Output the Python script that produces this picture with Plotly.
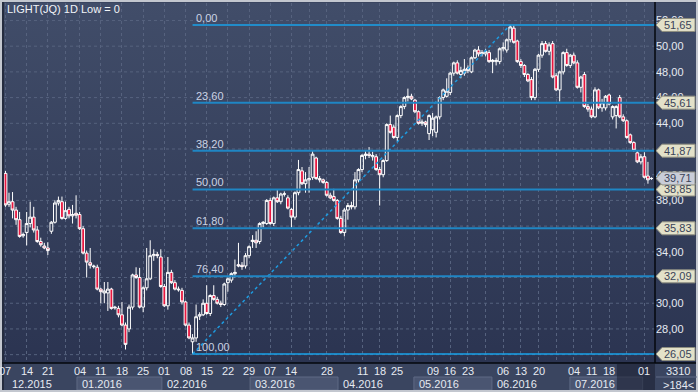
import base64
import numpy as np
import plotly.graph_objects as go

# ---------------- data ----------------
opens = [40.1, 37.7, 37.9, 37.25, 36.5, 35.25, 35.5, 36.2, 36.7, 35.7, 34.8, 34.45, 34.3, 35.6, 36.3, 37.8, 37.9, 36.6, 37.3, 36.8,
         37.0, 36.9, 35.8, 33.9, 33.15, 32.9, 32.8, 31.1, 30.8, 30.8, 31.1, 29.7, 29.6, 29.1, 28.3, 28.0, 29.7, 32.2, 32.0, 29.7,
         31.2, 31.9, 33.7, 33.8, 33.6, 31.3, 29.8, 32.4, 31.6, 31.1, 31.0, 30.1, 28.3, 27.0, 27.3, 29.0, 29.1, 30.0, 29.2, 30.6,
         30.3, 30.0, 29.9, 31.6, 31.8, 32.3, 33.0, 32.95, 32.9, 33.7, 34.8, 34.9, 34.8, 36.2, 36.2, 38.0, 36.2, 38.2, 37.9, 38.5,
         38.2, 37.3, 36.7, 38.6, 40.3, 39.3, 39.6, 39.8, 41.3, 39.7, 39.6, 39.4, 38.4, 38.3, 38.0, 36.6, 35.5, 37.25, 37.6, 37.5,
         39.6, 40.4, 41.5, 41.6, 41.4, 41.4, 40.4, 40.0, 41.1, 43.9, 43.7, 42.9, 44.6, 45.3, 46.0, 46.1, 45.8, 44.9, 44.0, 44.1,
         43.2, 43.5, 43.3, 44.5, 46.0, 46.1, 46.4, 47.9, 48.7, 47.8, 47.9, 48.3, 48.0, 49.1, 49.7, 49.4, 49.4, 49.5, 48.8, 48.8,
         48.8, 49.8, 49.7, 50.5, 51.4, 50.4, 48.8, 48.5, 47.8, 47.4, 46.0, 48.2, 49.3, 50.2, 49.6, 50.2, 47.7, 46.6, 48.0, 49.5,
         48.5, 49.3, 48.7, 46.8, 47.8, 45.3, 45.1, 44.5, 46.6, 45.2, 45.2, 46.2, 44.5, 44.6, 46.0, 44.5, 44.2, 43.1, 42.5, 41.7,
         41.0, 41.4, 39.9, 39.7]
highs = [40.3, 38.6, 38.65, 37.5, 37.1, 35.5, 37.1, 37.9, 37.5, 36.0, 35.1, 34.7, 34.75, 36.4, 38.0, 38.3, 38.3, 37.9, 37.5, 37.65,
         38.4, 37.1, 36.0, 34.1, 34.3, 33.0, 33.0, 31.2, 31.65, 31.65, 31.2, 29.8, 29.8, 30.1, 28.5, 29.9, 32.3, 32.8, 32.75, 31.3,
         34.3, 34.9, 34.2, 34.0, 34.2, 31.5, 33.6, 32.6, 31.8, 31.3, 31.2, 30.2, 28.5, 27.6, 29.9, 29.3, 30.3, 31.4, 30.7, 31.4,
         30.5, 30.2, 31.6, 32.0, 32.4, 33.4, 34.7, 33.2, 33.9, 34.5, 35.3, 35.6, 36.3, 36.4, 38.1, 38.2, 38.3, 38.8, 38.6, 38.7,
         38.4, 37.4, 38.7, 41.15, 40.6, 40.2, 40.6, 41.9, 41.4, 39.9, 39.7, 39.5, 38.6, 38.9, 38.1, 36.8, 37.4, 37.8, 37.9, 40.2,
         40.5, 41.6, 41.9, 42.15, 41.8, 41.6, 40.6, 41.2, 44.0, 44.6, 43.9, 44.7, 45.4, 46.1, 46.7, 46.3, 45.9, 45.0, 44.3, 44.2,
         44.7, 44.8, 44.6, 46.1, 46.7, 47.5, 48.0, 48.8, 48.9, 48.4, 49.0, 48.5, 49.2, 49.8, 50.0, 49.7, 49.8, 49.7, 49.0, 49.1,
         49.9, 50.3, 50.6, 51.65, 51.6, 50.5, 49.0, 48.6, 47.9, 47.6, 48.3, 49.4, 50.4, 50.4, 50.3, 50.4, 47.9, 48.1, 49.6, 49.8,
         49.4, 49.5, 48.9, 47.7, 48.0, 45.5, 45.3, 46.8, 46.7, 45.9, 46.2, 46.3, 45.4, 45.4, 46.2, 44.7, 44.3, 43.2, 42.6, 41.9,
         41.6, 41.75, 41.0, 39.8]
lows = [37.5, 37.5, 36.6, 36.1, 35.1, 35.1, 34.5, 35.9, 35.5, 34.7, 34.4, 34.2, 33.75, 35.4, 36.2, 37.6, 36.5, 36.5, 36.6, 36.2,
        36.6, 35.7, 33.8, 32.0, 32.7, 32.7, 31.0, 30.0, 30.0, 29.4, 29.5, 29.5, 28.9, 28.2, 26.4, 27.75, 29.5, 31.9, 29.6, 29.3,
        31.0, 31.8, 33.3, 33.5, 31.2, 29.7, 29.5, 31.5, 31.0, 30.9, 29.9, 28.2, 27.2, 26.05, 27.0, 28.7, 29.0, 29.1, 29.0, 30.2,
        29.9, 29.7, 29.8, 30.9, 31.6, 32.0, 32.8, 32.6, 32.7, 33.5, 34.3, 34.3, 34.6, 35.9, 36.1, 36.1, 36.0, 37.8, 37.7, 38.3,
        37.3, 35.9, 36.5, 38.4, 39.2, 38.6, 38.6, 39.6, 39.6, 39.4, 39.3, 38.3, 38.1, 37.9, 36.5, 35.4, 35.2, 36.5, 37.3, 37.3,
        39.4, 40.2, 41.2, 41.3, 41.1, 40.3, 37.6, 39.8, 41.0, 43.2, 42.8, 42.6, 44.4, 45.1, 45.7, 45.8, 44.8, 43.9, 43.8, 43.7,
        42.7, 43.0, 42.9, 44.3, 45.8, 46.0, 46.2, 47.7, 47.8, 47.5, 47.7, 47.9, 47.9, 49.0, 49.2, 49.2, 49.2, 48.7, 47.9, 48.5,
        48.6, 49.6, 49.5, 50.3, 50.2, 48.7, 48.3, 47.6, 47.2, 45.8, 45.8, 48.0, 49.1, 49.5, 49.3, 47.5, 46.5, 45.7, 47.8, 48.4,
        48.3, 48.6, 46.7, 46.4, 45.2, 44.9, 44.4, 44.4, 45.1, 44.9, 45.0, 45.4, 44.3, 43.6, 44.4, 44.1, 42.8, 42.4, 41.8, 40.9,
        40.8, 39.7, 39.3, 39.6]
closes = [37.65, 37.9, 37.25, 36.5, 35.2, 35.35, 36.2, 36.7, 35.7, 34.8, 34.55, 34.3, 34.1, 36.3, 37.8, 38.0, 36.6, 37.2, 36.8, 36.9,
          36.85, 35.8, 33.9, 33.2, 32.95, 32.85, 31.1, 30.9, 30.95, 31.1, 29.6, 29.65, 29.1, 28.3, 26.8, 29.7, 32.2, 32.0, 29.7, 31.2,
          31.9, 33.7, 33.8, 33.7, 31.3, 29.8, 32.4, 31.6, 31.1, 31.05, 30.1, 28.3, 27.3, 27.3, 28.95, 29.1, 30.0, 29.2, 30.6, 30.3,
          30.0, 29.9, 31.5, 31.9, 32.3, 32.4, 32.9, 32.85, 33.7, 34.4, 34.9, 34.7, 36.2, 36.3, 38.0, 36.2, 38.2, 37.9, 38.5, 38.5,
          37.4, 36.7, 38.6, 40.4, 39.3, 39.6, 39.7, 41.6, 39.7, 39.6, 39.4, 38.4, 38.2, 38.0, 36.6, 35.5, 37.25, 37.6, 37.5, 39.6,
          40.4, 41.5, 41.6, 41.5, 41.5, 40.4, 40.0, 41.1, 43.9, 43.3, 42.9, 44.6, 45.3, 46.0, 46.1, 45.9, 44.9, 44.0, 44.1, 43.9,
          44.6, 44.4, 44.5, 46.0, 46.6, 46.5, 47.9, 48.7, 47.9, 48.1, 48.2, 48.1, 49.1, 49.7, 49.4, 49.5, 49.6, 48.8, 48.9, 48.9,
          49.8, 49.9, 50.5, 51.5, 50.3, 48.8, 48.5, 47.8, 47.3, 46.0, 48.2, 49.3, 50.2, 49.6, 50.1, 47.6, 46.6, 48.0, 49.5, 48.5,
          49.3, 48.7, 46.8, 47.6, 45.3, 45.1, 44.5, 46.6, 45.2, 45.6, 46.1, 45.5, 45.3, 45.3, 44.5, 44.2, 42.9, 42.5, 41.9, 41.0,
          41.4, 39.8, 39.6, 39.71]
bar_index = list(range(len(opens)))

week_ticks = [0, 6, 12, 17, 21, 27, 33, 39, 45, 51, 57, 63, 69, 75, 81, 86, 91, 96, 101, 106,
              111, 116, 121, 126, 131, 136, 141, 146, 151, 156, 161, 166, 171, 176, 181]
week_labels = ["07", "14", "21", "", "04", "11", "18", "25", "01", "08", "15", "22", "29", "07", "14", "", "28", "", "11", "18",
               "25", "", "09", "16", "23", "", "06", "13", "20", "", "04", "11", "18", "", "01"]
month_labels = ["12.2015", "01.2016", "02.2016", "03.2016", "04.2016", "05.2016", "06.2016", "07.2016"]
month_starts = [0.5, 20.25, 44.3, 69.3, 94.2, 115.7, 137.8, 159.9, 180.5]
price_ticks = [28, 30, 34, 38, 40, 44, 46, 48, 50, 52]

fib_ratios = [0.0, 23.6, 38.2, 50.0, 61.8, 76.4, 100.0]
title_text = "LIGHT(JQ) 1D Low = 0"
corner_top, corner_bottom = "3310", ">184<"

# ---------------- geometry helpers ----------------
W, H = 698, 392
L, R, T, B = 4, 655, 3, 363
XR = [-0.42, 184.0]
YR = [25.35, 53.36]


def pxx(px):
    return (px - L) / (R - L)


def pxy(py):
    return (B - py) / (B - T)


def pricey(p):
    return (p - YR[0]) / (YR[1] - YR[0])


def fmt(v):
    return f"{v:.2f}".replace(".", ",")


FONT = "Liberation Sans"
GRID = "#56627e"
RED = "#e8173f"
TXT = "#e6eaf2"

i_low = int(np.argmin(lows))
i_high = int(np.argmax(highs))
lo, hi = lows[i_low], highs[i_high]
levels = [hi - r / 100.0 * (hi - lo) for r in fib_ratios]

fig = go.Figure()
fig.add_trace(go.Candlestick(
    x=bar_index, open=opens, high=highs, low=lows, close=closes,
    increasing=dict(line=dict(color="#ffffff", width=1), fillcolor="rgba(0,0,0,0)"),
    decreasing=dict(line=dict(color="#ffffff", width=1), fillcolor=RED),
    whiskerwidth=0, hoverinfo="skip", showlegend=False))
fig.add_trace(go.Scatter(
    x=[i_low, i_high], y=[lo, hi], mode="lines",
    line=dict(color="#1e9be0", width=1.5, dash="dot"), hoverinfo="skip", showlegend=False))

shapes = []
annotations = []

# fibonacci levels
for r, lv in zip(fib_ratios, levels):
    edge = r in (0.0, 100.0)
    shapes.append(dict(type="line", xref="x", yref="y", x0=i_low, x1=XR[1], y0=lv, y1=lv,
                       line=dict(color="#19a2ea" if edge else "#1f86c4", width=1.3 if edge else 2)))
    annotations.append(dict(xref="x", yref="y", x=i_low, y=lv, xanchor="left", yanchor="bottom",
                            text=fmt(r), showarrow=False, xshift=1, yshift=-1,
                            font=dict(family=FONT, size=11, color="#cbd3e4")))

# price tags on the right axis
tag_items = [(lv, "#e3e1c9") for lv in levels] + [(closes[-1], "#c9cdd8")]
for p, col in tag_items:
    yc = pricey(p)
    hh = 6.5 / (B - T)
    x_tip, x_base, x_end = pxx(656), pxx(662), pxx(695)
    path = (f"M {x_tip},{yc} L {x_base},{yc + hh} L {x_end},{yc + hh} "
            f"L {x_end},{yc - hh} L {x_base},{yc - hh} Z")
    shapes.append(dict(type="path", xref="paper", yref="paper", path=path,
                       fillcolor=col, line=dict(color="#8e8e80", width=1), layer="above"))
    annotations.append(dict(xref="paper", yref="paper", x=pxx(678), y=yc, xanchor="center", yanchor="middle",
                            text=fmt(p), showarrow=False,
                            font=dict(family=FONT, size=11, color="#3a4358")))

# bottom day row
for tv, lab in zip(week_ticks, week_labels):
    if lab:
        annotations.append(dict(xref="x", yref="paper", x=tv, y=pxy(371), xanchor="center", yanchor="middle",
                                text=lab, showarrow=False, font=dict(family=FONT, size=11, color=TXT)))

# bottom month row
for k, lab in enumerate(month_labels):
    x0, x1 = month_starts[k], month_starts[k + 1]
    if k % 2 == 1:
        shapes.append(dict(type="rect", xref="x", yref="paper", x0=x0, x1=x1,
                           y0=pxy(390), y1=pxy(377), fillcolor="#4a5571",
                           line=dict(color="#5f6a85", width=1), layer="above"))
    annotations.append(dict(xref="x", yref="paper", x=x0, y=pxy(384), xanchor="left", yanchor="middle",
                            text=lab, showarrow=False, xshift=3,
                            font=dict(family=FONT, size=11, color=TXT)))
# dark overlay bottom right
shapes.append(dict(type="rect", xref="x", yref="paper", x0=173.2, x1=XR[1], y0=pxy(391), y1=pxy(364),
                   fillcolor="rgba(25,30,48,0.55)", line=dict(width=0), layer="above"))

# frame lines
shapes.append(dict(type="line", xref="paper", yref="paper", x0=pxx(655), x1=pxx(655), y0=pxy(363), y1=pxy(0),
                   line=dict(color="#05070c", width=1.5)))
shapes.append(dict(type="line", xref="paper", yref="paper", x0=pxx(0), x1=pxx(698), y0=pxy(363), y1=pxy(363),
                   line=dict(color="#05070c", width=1.5)))
shapes.append(dict(type="line", xref="paper", yref="paper", x0=pxx(3), x1=pxx(3), y0=pxy(391), y1=pxy(2),
                   line=dict(color="#10141e", width=1)))
shapes.append(dict(type="rect", xref="paper", yref="paper", x0=pxx(1), x1=pxx(697), y0=pxy(391), y1=pxy(1),
                   line=dict(color="#c3c7cf", width=2)))
shapes.append(dict(type="line", xref="paper", yref="paper", x0=pxx(656), x1=pxx(697), y0=pxy(377), y1=pxy(377),
                   line=dict(color="#5f6a85", width=1)))

# title + corner
annotations.append(dict(xref="paper", yref="paper", x=pxx(5), y=pxy(9), xanchor="left", yanchor="middle",
                        text=title_text, showarrow=False, font=dict(family=FONT, size=11, color="#f2f4f8")))
annotations.append(dict(xref="paper", yref="paper", x=pxx(678), y=pxy(371), xanchor="center", yanchor="middle",
                        text=corner_top, showarrow=False, font=dict(family=FONT, size=11, color=TXT)))
annotations.append(dict(xref="paper", yref="paper", x=pxx(678), y=pxy(385), xanchor="center", yanchor="middle",
                        text=corner_bottom, showarrow=False, font=dict(family=FONT, size=11, color=TXT)))

# background gradient
svg = ('<svg xmlns="http://www.w3.org/2000/svg" width="100" height="100" preserveAspectRatio="none">'
       '<defs><linearGradient id="g" x1="0" y1="0" x2="0" y2="1">'
       '<stop offset="0" stop-color="#414d69"/><stop offset="1" stop-color="#2b3451"/>'
       '</linearGradient></defs><rect width="100" height="100" fill="url(#g)"/></svg>')
src = "data:image/svg+xml;base64," + base64.b64encode(svg.encode()).decode()

fig.update_layout(
    width=W, height=H,
    margin=dict(l=L, r=W - R, t=T, b=H - B, pad=0),
    paper_bgcolor="#3a4560", plot_bgcolor="rgba(0,0,0,0)",
    separators=",.",
    showlegend=False,
    boxgap=0.12, boxgroupgap=0.1,
    font=dict(family=FONT, size=11, color=TXT),
    images=[dict(source=src, xref="paper", yref="paper", x=0, y=1, sizex=pxx(698), sizey=1,
                 sizing="stretch", layer="below")],
    xaxis=dict(range=XR, tickmode="array", tickvals=week_ticks, showticklabels=False,
               showgrid=True, gridcolor=GRID, griddash="3px,3px", gridwidth=1,
               zeroline=False, showline=False, ticks="", rangeslider=dict(visible=False),
               fixedrange=True),
    yaxis=dict(range=YR, side="right", tickmode="array", tickvals=price_ticks, tickformat=".2f",
               showgrid=False, zeroline=False, showline=False, ticks="",
               tickfont=dict(family=FONT, size=11, color=TXT), fixedrange=True),
    shapes=shapes, annotations=annotations,
)

# horizontal dashed grid every 2 price units (drawn as grid-like lines)
grid_levels = list(range(26, 54, 2))
for g in grid_levels:
    fig.add_shape(type="line", xref="x", yref="y", x0=XR[0], x1=XR[1], y0=g, y1=g,
                  line=dict(color=GRID, width=1, dash="3px,3px"), layer="below")

fig.write_html("out.html", config={"displayModeBar": False},
               post_script="document.body.style.margin='0px';document.body.style.overflow='hidden';")
